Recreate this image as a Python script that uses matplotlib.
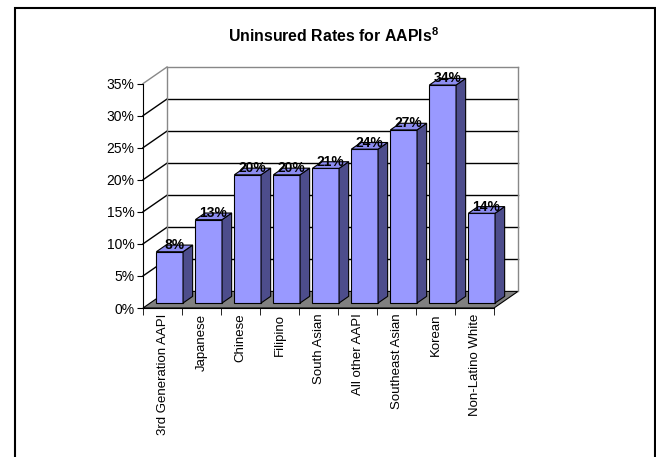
import numpy as np
import matplotlib
matplotlib.use('Agg')
import matplotlib.pyplot as plt
from matplotlib.patches import Polygon, Rectangle

plt.rcParams['font.family'] = ['Liberation Sans', 'DejaVu Sans']
plt.rcParams['mathtext.fontset'] = 'custom'
plt.rcParams['mathtext.bf'] = 'Liberation Sans:bold'
plt.rcParams['mathtext.rm'] = 'Liberation Sans'

# data
groups = ['3rd Generation AAPI', 'Japanese', 'Chinese', 'Filipino', 'South Asian',
          'All other AAPI', 'Southeast Asian', 'Korean', 'Non-Latino White']
rates = [8, 13, 20, 20, 21, 24, 27, 34, 14]
yticks = [0, 5, 10, 15, 20, 25, 30, 35]
title = r'Uninsured Rates for AAPIs$^{\mathbf{8}}$'

# fake 3d depth (x in category units, y in percent)
DX = 0.615
DY = 2.59
d0, d1 = 0.30, 0.70
bw = 0.684

front = '#9999ff'
side = '#4d4d8c'
top = '#8c8cf0'

fig = plt.figure(figsize=(6.56, 4.57), dpi=100)
fig.patches.append(Rectangle((15 / 656, -0.1), 640 / 656, (457 - 8) / 457 + 0.1,
                             transform=fig.transFigure, fill=False,
                             edgecolor='black', linewidth=1.5))

ax = fig.add_axes([143 / 656, (457 - 308) / 457, 375 / 656, 241 / 457])
n = len(groups)
x = np.arange(n)
ax.set_xlim(-0.5, n - 0.5 + DX)
ax.set_ylim(0, yticks[-1] + DY)

for s in ['top', 'right']:
    ax.spines[s].set_visible(False)
ax.spines['left'].set_bounds(0, yticks[-1])
ax.spines['bottom'].set_bounds(-0.5, n - 0.5)
ax.patch.set_visible(False)

# floor
ax.add_patch(Polygon([(-0.5, 0), (n - 0.5, 0), (n - 0.5 + DX, DY), (-0.5 + DX, DY)],
                     closed=True, facecolor='#808080', edgecolor='black',
                     linewidth=0.8, zorder=1, clip_on=False))

# walls and gridlines
for t in yticks[1:]:
    c = '#888888' if t == yticks[-1] else 'black'
    ax.plot([-0.5 + DX, n - 0.5 + DX], [t + DY, t + DY], color=c, lw=1, zorder=1, clip_on=False)
    ax.plot([-0.5, -0.5 + DX], [t, t + DY], color=c, lw=1, zorder=1, clip_on=False)
ax.plot([-0.5 + DX, -0.5 + DX], [DY, yticks[-1] + DY], color='#888888', lw=1, zorder=1, clip_on=False)
ax.plot([n - 0.5 + DX, n - 0.5 + DX], [DY, yticks[-1] + DY], color='#888888', lw=1, zorder=1, clip_on=False)

# bars
xl = x - bw / 2 + d0 * DX
ax.bar(xl, rates, width=bw, bottom=d0 * DY, align='edge', color=front,
       edgecolor='black', linewidth=0.8, zorder=3)
dd = (d1 - d0)
for xi, v in zip(xl, rates):
    b = d0 * DY
    ax.add_patch(Polygon([(xi + bw, b), (xi + bw + dd * DX, b + dd * DY),
                          (xi + bw + dd * DX, b + v + dd * DY), (xi + bw, b + v)],
                         closed=True, facecolor=side, edgecolor='black', lw=0.8, zorder=3))
    ax.add_patch(Polygon([(xi, b + v), (xi + bw, b + v), (xi + bw + dd * DX, b + v + dd * DY),
                          (xi + dd * DX, b + v + dd * DY)],
                         closed=True, facecolor=top, edgecolor='black', lw=0.8, zorder=3))
    ax.text(xi + bw / 2 + dd * DX / 2, b + v + dd * DY, f'{v}%', ha='center', va='center',
            fontsize=10, fontweight='bold', zorder=4)

ax.set_yticks(yticks, [f'{t}%' for t in yticks])
ax.tick_params(axis='y', direction='out', length=4, pad=2, labelsize=10)
ax.set_xticks(x, groups, rotation=90)
ax.set_xticks(np.arange(-0.5, n, 1), minor=True)
ax.tick_params(axis='x', which='major', length=0, pad=4, labelsize=9.5)
ax.tick_params(axis='x', which='minor', direction='out', length=5)

fig.text(333 / 656, 1 - 36 / 457, title, ha='center', va='center', fontsize=11.4,
         fontweight='bold')

fig.savefig('out.png', dpi=100)
